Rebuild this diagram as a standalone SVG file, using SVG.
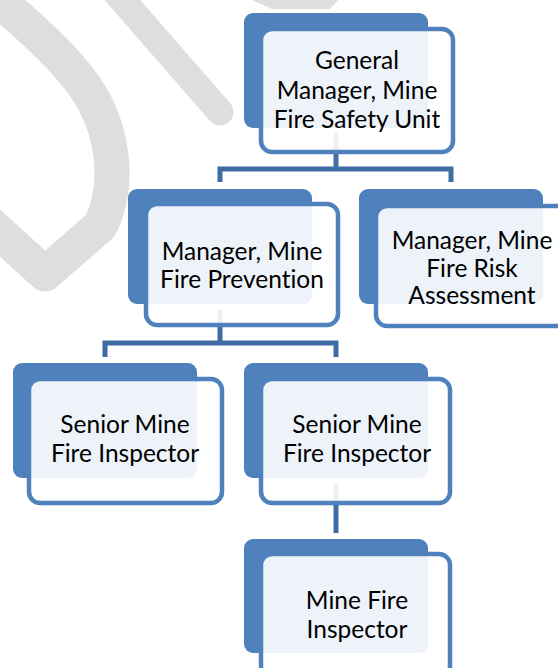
<svg xmlns="http://www.w3.org/2000/svg" width="558" height="668" viewBox="0 0 558 668">
  <style>
    .wm { fill: none; stroke: #dedede; stroke-linecap: round; stroke-linejoin: round; }
    .back { fill: #4f81bd; }
    .front { fill: #ffffff; fill-opacity: 0.9; stroke: #4f81bd; stroke-width: 4.5; }
    .conn { fill: none; stroke: #3e6ca3; stroke-width: 5; }
    text { font-family: Lato, "Liberation Sans", sans-serif; font-size: 24.5px; fill: #000000; text-anchor: middle; font-variant-ligatures: none; }
  </style>
  <rect width="558" height="668" fill="#ffffff"/>
  <g id="watermark">
    <path class="wm" stroke-width="35" d="M -15,-12 C 40,35 75,68 92,98 C 116,140 118,192 100,226 L 45,274 L -10,224"/>
    <path class="wm" stroke-width="27" d="M 112,-12 L 220,112"/>
    <path fill="#dedede" d="M 252,0 L 338,0 L 330,9 L 272,9 Z"/>
  </g>
  <g id="connectors">
    <path class="conn" d="M220,182 V169 H451 V182 M336,133 V169"/>
    <path class="conn" d="M105,357 V343 H336 V357 M220,310 V343"/>
    <path class="conn" d="M336,483 V533"/>
  </g>
  <g id="node-gm">
    <rect class="back" x="244" y="13" width="184" height="115" rx="9"/>
    <rect class="front" x="261" y="29" width="192" height="123" rx="11"/>
    <text x="357" y="69">General</text>
    <text x="357" y="99">Manager, Mine</text>
    <text x="357" y="128">Fire Safety Unit</text>
  </g>
  <g id="node-prevention">
    <rect class="back" x="128" y="189" width="184" height="115" rx="9"/>
    <rect class="front" x="146" y="204" width="192" height="121" rx="11"/>
    <text x="242" y="260">Manager, Mine</text>
    <text x="242" y="288">Fire Prevention</text>
  </g>
  <g id="node-risk">
    <rect class="back" x="359" y="189" width="184" height="115" rx="9"/>
    <rect class="front" x="376" y="206" width="192" height="120" rx="11"/>
    <text x="472" y="249">Manager, Mine</text>
    <text x="472" y="277">Fire Risk</text>
    <text x="472" y="304">Assessment</text>
  </g>
  <g id="node-senior-1">
    <rect class="back" x="13" y="363" width="184" height="115" rx="9"/>
    <rect class="front" x="29" y="379" width="193" height="124" rx="11"/>
    <text x="125" y="433">Senior Mine</text>
    <text x="125" y="462">Fire Inspector</text>
  </g>
  <g id="node-senior-2">
    <rect class="back" x="244" y="363" width="184" height="115" rx="9"/>
    <rect class="front" x="261" y="379" width="189" height="124" rx="11"/>
    <text x="357" y="433">Senior Mine</text>
    <text x="357" y="462">Fire Inspector</text>
  </g>
  <g id="node-inspector">
    <rect class="back" x="244" y="539" width="184" height="114" rx="9"/>
    <rect class="front" x="261" y="554" width="189" height="123" rx="11"/>
    <text x="357" y="609">Mine Fire</text>
    <text x="357" y="638">Inspector</text>
  </g>
</svg>
